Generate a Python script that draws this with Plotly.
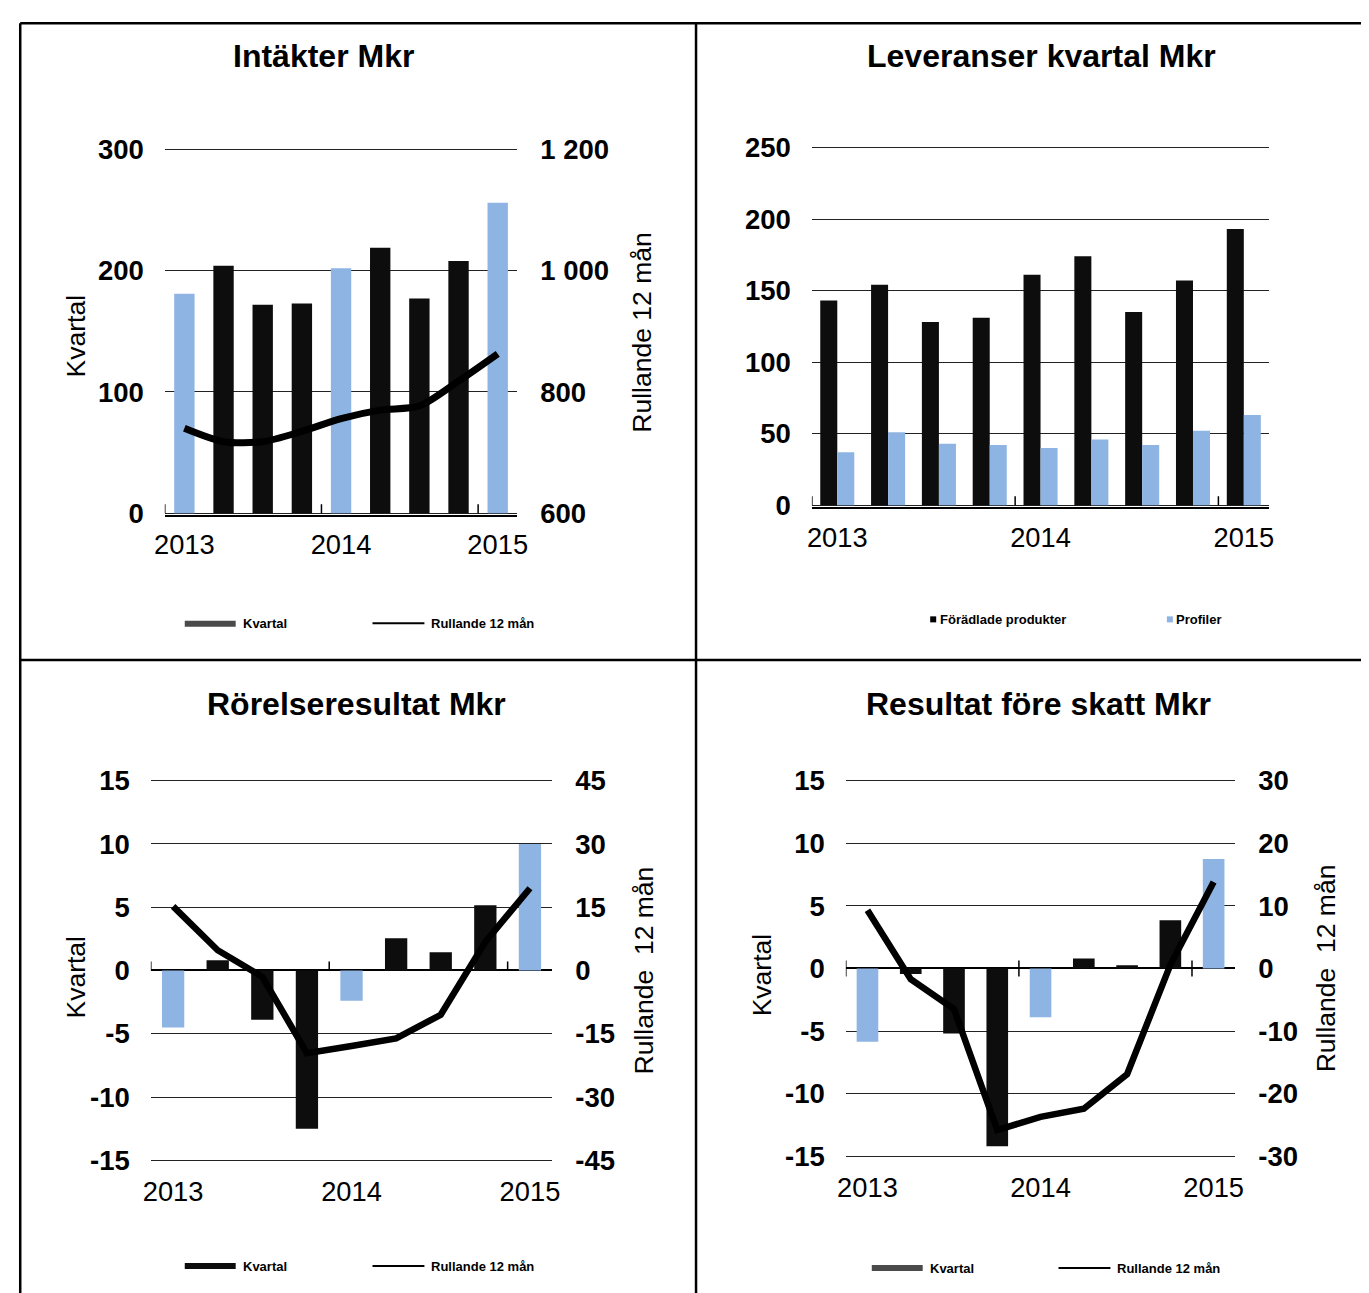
import plotly.graph_objects as go

# The page is photographed with a fixed offset/scale; all layout positions below are
# given in reference-picture pixels and converted to figure pixels.
TX, TY = 18.0, 22.2        # picture offset of the figure origin
SX, SY = 0.9854, 0.9768    # picture scale of figure pixels
W, H = 1375, 1305
FONT = "Liberation Sans, Arial, sans-serif"

# ---------------- data ----------------
quarters = ["2013 K1", "2013 K2", "2013 K3", "2013 K4",
            "2014 K1", "2014 K2", "2014 K3", "2014 K4", "2015 K1"]

intakter_kvartal = [181, 204, 172, 173, 202, 219, 177, 208, 256]
intakter_rullande = [740, 718, 718, 735, 756, 770, 777, 818, 863]

lev_foradlade = [143, 154, 128, 131, 161, 174, 135, 157, 193]
lev_profiler = [37, 51, 43, 42, 40, 46, 42, 52, 63]

rorelse_kvartal = [-4.5, 0.8, -3.9, -12.5, -2.4, 2.55, 1.45, 5.15, 10.0]
rorelse_rullande = [15.2, 4.8, -1.5, -19.6, -17.9, -16.1, -10.5, 6.8, 19.5]

resultat_kvartal = [-5.85, -0.45, -5.2, -14.2, -3.9, 0.8, 0.25, 3.85, 8.75]
resultat_rullande = [9.3, -1.7, -6.5, -25.8, -23.7, -22.4, -16.9, 0.6, 13.8]

intakter_left_ticks = [0, 100, 200, 300]
intakter_right_ticks = [600, 800, 1000, 1200]
lev_ticks = [0, 50, 100, 150, 200, 250]
rorelse_left_ticks = [-15, -10, -5, 0, 5, 10, 15]
rorelse_right_ticks = [-45, -30, -15, 0, 15, 30, 45]
resultat_left_ticks = [-15, -10, -5, 0, 5, 10, 15]
resultat_right_ticks = [-30, -20, -10, 0, 10, 20, 30]

titles = ["Intäkter Mkr", "Leveranser kvartal Mkr",
          "Rörelseresultat Mkr", "Resultat före skatt Mkr"]

# ---------------- helpers ----------------
BLACK = "#0d0d0d"
BLUE = "#8eb4e3"


def fig_x(px):
    return max((px - TX) / SX, 1.25)


def fig_y(py):
    return max((py - TY) / SY, 1.25)


def fx(px):
    return fig_x(px) / W


def fy(py):
    return 1 - fig_y(py) / H


def fmt(v):
    return f"{v:,}".replace(",", " ")


def padded(ticks, pad=0.004):
    span = ticks[-1] - ticks[0]
    return [ticks[0] - pad * span, ticks[-1] + pad * span]


xpos = list(range(len(quarters)))
year_idx = [i for i, q in enumerate(quarters) if q.endswith("K1")]
year_text = [quarters[i][:4] for i in year_idx]
boundaries = [i - 0.5 for i in year_idx]
kv_colors = [BLUE if q.endswith("K1") else BLACK for q in quarters]

tickfont_bold = dict(family=FONT, size=27.5, color="black", weight="bold")
xtickfont = dict(family=FONT, size=27.3, color="black")

fig = go.Figure()

# Panel 1
fig.add_trace(go.Bar(x=xpos, y=intakter_kvartal, marker=dict(color=kv_colors, line=dict(width=0)),
                     width=0.52, xaxis="x", yaxis="y", name="Kvartal", showlegend=False))
fig.add_trace(go.Scatter(x=xpos, y=intakter_rullande, mode="lines",
                         line=dict(color="black", width=7, shape="spline", smoothing=0.8),
                         xaxis="x", yaxis="y2", name="Rullande 12 mån", showlegend=False))
# Panel 2
fig.add_trace(go.Bar(x=xpos, y=lev_foradlade, marker=dict(color=BLACK, line=dict(width=0)),
                     width=0.335, offset=-0.335, xaxis="x2", yaxis="y3",
                     name="Förädlade produkter", showlegend=False))
fig.add_trace(go.Bar(x=xpos, y=lev_profiler, marker=dict(color=BLUE, line=dict(width=0)),
                     width=0.335, offset=0, xaxis="x2", yaxis="y3",
                     name="Profiler", showlegend=False))
# Panel 3
fig.add_trace(go.Bar(x=xpos, y=rorelse_kvartal, marker=dict(color=kv_colors, line=dict(width=0)),
                     width=0.5, xaxis="x3", yaxis="y4", name="Kvartal", showlegend=False))
fig.add_trace(go.Scatter(x=xpos, y=rorelse_rullande, mode="lines",
                         line=dict(color="black", width=6.5),
                         xaxis="x3", yaxis="y5", name="Rullande 12 mån", showlegend=False))
# Panel 4
fig.add_trace(go.Bar(x=xpos, y=resultat_kvartal, marker=dict(color=kv_colors, line=dict(width=0)),
                     width=0.5, xaxis="x4", yaxis="y6", name="Kvartal", showlegend=False))
fig.add_trace(go.Scatter(x=xpos, y=resultat_rullande, mode="lines",
                         line=dict(color="black", width=6.5),
                         xaxis="x4", yaxis="y7", name="Rullande 12 mån", showlegend=False))

# plot-area boxes in reference pixels (left, top, right, bottom)
boxes = {
    1: (164, 148, 517, 514),
    2: (812, 146, 1270, 506),
    3: (150, 778, 552, 1160),
    4: (846, 778, 1236, 1156),
}


def xaxis(box, anchor, showline, standoff):
    l, t, r, b = box
    return dict(domain=[fx(l), fx(r)], anchor=anchor, range=[-0.5, len(quarters) - 0.5],
                tickmode="array", tickvals=year_idx, ticktext=year_text, ticks="",
                showline=showline, linecolor="black", linewidth=1.5,
                showgrid=False, zeroline=False, tickfont=xtickfont, ticklabelstandoff=standoff,
                fixedrange=True)


def yleft(box, anchor, ticks, zeroline):
    l, t, r, b = box
    return dict(domain=[fy(b), fy(t)], anchor=anchor, range=padded(ticks),
                tickmode="array", tickvals=ticks, ticktext=[fmt(v) for v in ticks],
                showgrid=True, gridcolor="#222222", gridwidth=1.2,
                zeroline=zeroline, zerolinecolor="black", zerolinewidth=1.5,
                showline=False, ticks="", tickfont=tickfont_bold, ticklabelstandoff=20)


def yright(over, anchor, ticks):
    return dict(overlaying=over, side="right", anchor=anchor, range=padded(ticks),
                tickmode="array", tickvals=ticks, ticktext=[fmt(v) for v in ticks],
                showgrid=False, zeroline=False, showline=False, ticks="",
                tickfont=tickfont_bold, ticklabelstandoff=22)


fig.update_layout(
    width=W, height=H, autosize=False,
    margin=dict(l=0, r=0, t=0, b=0, pad=0),
    paper_bgcolor="white", plot_bgcolor="white",
    barmode="overlay", showlegend=False,
    font=dict(family=FONT, color="black"),
    xaxis=xaxis(boxes[1], "y", True, 5),
    yaxis=yleft(boxes[1], "x", intakter_left_ticks, False),
    yaxis2=yright("y", "x", intakter_right_ticks),
    xaxis2=xaxis(boxes[2], "y3", True, 6),
    yaxis3=yleft(boxes[2], "x2", lev_ticks, False),
    xaxis3=xaxis(boxes[3], "y4", False, 11),
    yaxis4=yleft(boxes[3], "x3", rorelse_left_ticks, True),
    yaxis5=yright("y4", "x3", rorelse_right_ticks),
    xaxis4=xaxis(boxes[4], "y6", False, 11),
    yaxis6=yleft(boxes[4], "x4", resultat_left_ticks, True),
    yaxis7=yright("y6", "x4", resultat_right_ticks),
)

shapes = []
annotations = []

# x-axis tick marks at year boundaries (on the zero line)
for xr, yr, y0, y1 in [("x", "y", 0, 9), ("x2", "y3", 0, 9), ("x3", "y4", 0, 9), ("x4", "y6", -8, 8)]:
    for bnd in boundaries:
        shapes.append(dict(type="line", xref=xr, yref=yr, x0=bnd, x1=bnd,
                           ysizemode="pixel", yanchor=0, y0=y0, y1=y1,
                           line=dict(color="black", width=1.5)))

# table borders
bw = 2.5
for (x0, y0, x1, y1) in [(9, 12, 1380, 12), (9, 659, 1380, 659), (9, 12, 9, 1300), (696, 12, 696, 1300)]:
    shapes.append(dict(type="line", xref="paper", yref="paper",
                       x0=fx(x0), x1=fx(x1), y0=fy(y0), y1=fy(y1),
                       line=dict(color="black", width=bw)))

# titles
for title, (cx, cy) in zip(titles, [(322.5, 56), (1041.5, 56), (355.5, 703), (1038.5, 703)]):
    annotations.append(dict(text=f"<b>{title}</b>", xref="paper", yref="paper",
                            x=fx(cx), y=fy(cy), xanchor="center", yanchor="middle",
                            showarrow=False, font=dict(family=FONT, size=32, color="black")))

# axis titles
for text, (cx, cy) in [("Kvartal", (75.5, 335.6)), ("Rullande 12 mån", (641.7, 332.5)),
                       ("Kvartal", (75.5, 975.6)), ("Rullande\u00a0 12 mån", (643.5, 969.3)),
                       ("Kvartal", (761.5, 973.4)), ("Rullande\u00a0 12 mån", (1327, 966.7))]:
    annotations.append(dict(text=text, xref="paper", yref="paper", x=fx(cx), y=fy(cy),
                            xanchor="center", yanchor="middle", textangle=-90,
                            showarrow=False, font=dict(family=FONT, size=26.5, color="black")))

# legends (drawn manually)
LEG = dict(family=FONT, size=13, color="black", weight="bold")


def leg_line(x0, x1, y, color, width):
    shapes.append(dict(type="line", xref="paper", yref="paper", x0=fx(x0), x1=fx(x1),
                       y0=fy(y), y1=fy(y), line=dict(color=color, width=width)))


def leg_text(x, y, text):
    annotations.append(dict(text=text, xref="paper", yref="paper", x=fx(x), y=fy(y),
                            xanchor="left", yanchor="middle", showarrow=False, font=LEG))


def leg_square(x0, y, size, color):
    shapes.append(dict(type="rect", xref="paper", yref="paper", x0=fx(x0), x1=fx(x0 + size),
                       y0=fy(y + size / 2), y1=fy(y - size / 2), line=dict(width=0),
                       fillcolor=color))


# panel 1
leg_line(184, 235, 623, "#4a4a4a", 6)
leg_text(240, 623, "Kvartal")
leg_line(372, 424, 622.5, "black", 2)
leg_text(429, 622.5, "Rullande 12 mån")
# panel 2
leg_square(930.5, 618.5, 6, "black")
leg_text(938, 618.5, "Förädlade produkter")
leg_square(1167.5, 618.5, 6, BLUE)
leg_text(1175, 618.5, "Profiler")
# panel 3
leg_line(184, 235, 1264, BLACK, 6)
leg_text(240, 1264, "Kvartal")
leg_line(372, 424, 1264, "black", 2)
leg_text(429, 1264, "Rullande 12 mån")
# panel 4
leg_line(872, 923, 1266, "#4a4a4a", 6)
leg_text(928, 1266, "Kvartal")
leg_line(1059, 1111, 1266, "black", 2)
leg_text(1116, 1266, "Rullande 12 mån")

fig.update_layout(shapes=shapes, annotations=annotations)

fig.write_html("out.html", config=dict(displayModeBar=False))
